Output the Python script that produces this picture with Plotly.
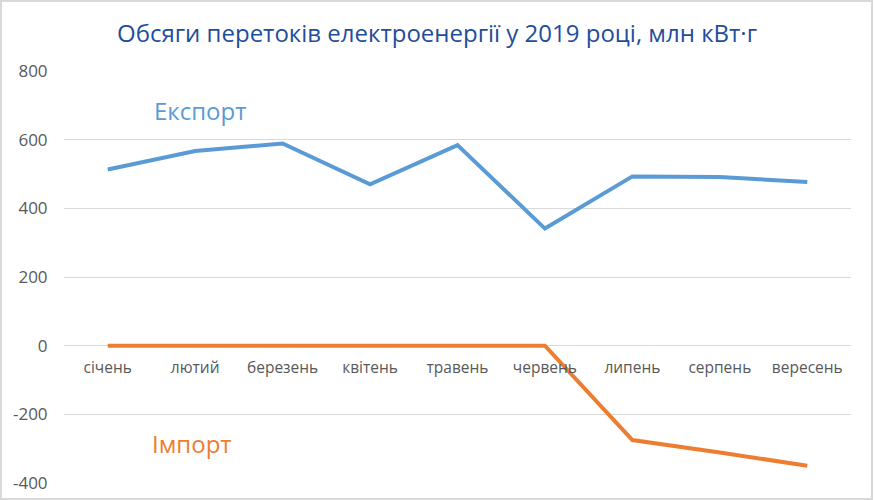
import plotly.graph_objects as go

months = ["січень", "лютий", "березень", "квітень", "травень", "червень", "липень", "серпень", "вересень"]
export_vals = [513, 567, 589, 470, 584, 341, 493, 491, 477]
import_vals = [0, 0, 0, 0, 0, 0, -275, -311, -350]
y_ticks = [-400, -200, 0, 200, 400, 600, 800]
y_tick_text = ["-400", "-200", "0", "200", "400", "600", "800"]

BLUE = "#5B9BD5"
ORANGE = "#ED7D31"
FONT = "Open Sans"

fig = go.Figure()
fig.add_trace(go.Scatter(x=months, y=export_vals, mode="lines", name="Експорт",
                         line=dict(color=BLUE, width=4)))
fig.add_trace(go.Scatter(x=months, y=import_vals, mode="lines", name="Імпорт",
                         line=dict(color=ORANGE, width=4)))

fig.update_layout(
    width=874, height=500,
    margin=dict(l=64, r=23, t=71, b=17, autoexpand=False),
    paper_bgcolor="white", plot_bgcolor="white",
    showlegend=False,
    font=dict(family=FONT, color="#595959"),
    title=dict(text="Обсяги перетоків електроенергії у 2019 році, млн кВт·г",
               x=0.5, xanchor="center", y=0.932, yanchor="middle",
               font=dict(family=FONT, size=24, color="#1F4E9A")),
    xaxis=dict(type="category", anchor="free", position=1/3,
               range=[-0.5, len(months) - 0.5], automargin=False,
               showgrid=False, showline=False, zeroline=False,
               tickfont=dict(size=15.5, color="#595959"), ticks="outside",
               ticklen=8, tickcolor="rgba(0,0,0,0)"),
    yaxis=dict(range=[-400, 800], tickvals=y_ticks, ticktext=y_tick_text,
               automargin=False, showgrid=True,
               gridcolor="#D9D9D9", gridwidth=1.3, zeroline=True,
               zerolinecolor="#D9D9D9", zerolinewidth=1.3, showline=False,
               tickfont=dict(size=17, color="#595959"),
               ticks="outside", ticklen=12, tickcolor="rgba(0,0,0,0)"),
    annotations=[
        dict(text="Експорт", xref="paper", yref="paper", x=0.174, y=0.905,
             xanchor="center", yanchor="middle",
             showarrow=False, font=dict(family=FONT, size=24, color=BLUE)),
        dict(text="Імпорт", xref="paper", yref="paper", x=0.163, y=0.097,
             xanchor="center", yanchor="middle",
             showarrow=False, font=dict(family=FONT, size=24, color=ORANGE)),
    ],
    shapes=[dict(type="rect", xref="paper", yref="paper",
                 x0=-63/787, x1=1+21/787, y0=-16/412, y1=1+70/412,
                 line=dict(color="#D9D9D9", width=2), layer="below")],
)

fig.write_html("out.html", config={"displayModeBar": False},
               post_script="document.body.style.margin='0';")
